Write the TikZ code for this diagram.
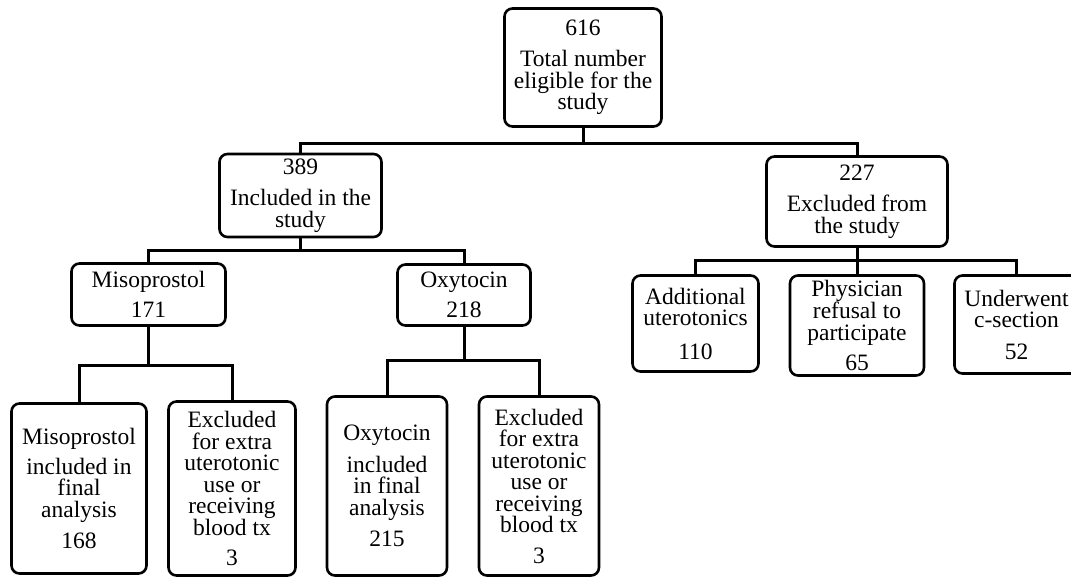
\documentclass[tikz,border=0pt]{standalone}
\usepackage{fontspec}
\setmainfont{Liberation Serif}
\usepackage{tikz}
\usetikzlibrary{arrows.meta,positioning}

\begin{document}
\begin{tikzpicture}[x=1pt,y=1pt]
	\tikzstyle{N} = [draw,line width=2.6pt,rounded corners=8pt,align=center,inner sep=0pt,font=\fontsize{23.5}{21.5}\selectfont]
	\tikzstyle{L} = [-,line width=3pt]
	\clip (0,0) rectangle (1071,-581);
	\node[N,minimum width=157pt,minimum height=118pt](root) at (583,-67.5) {616\\[10pt]Total number\\eligible for the\\study};
	\node[N,below of=root,node distance=128pt,xshift=-282.5pt,minimum width=162pt,minimum height=83pt](inc) {389\\[10pt]Included in the\\study};
	\node[N,below of=root,node distance=134pt,xshift=274pt,minimum width=181pt,minimum height=90pt](exc) {227\\[10pt]Excluded from\\the study};
	%\node[N,right of=inc,node distance=556pt](exc) {227\\Excluded from\\the study};
	\coordinate[below of=root,node distance=75.5pt](b1);
	\draw[L](root) to (b1);
	\draw[L](b1) -| (inc);
	\draw[L](b1) -| (exc);
	% included arm
	\node[N,below of=inc,node distance=99pt,xshift=-152pt,minimum width=154pt,minimum height=62pt](miso) {Misoprostol\\[9pt]171};
	\node[N,below of=inc,node distance=99.5pt,xshift=163.5pt,minimum width=133pt,minimum height=61pt](oxy) {Oxytocin\\[9pt]218};
	\coordinate[below of=inc,node distance=54.5pt](b2);
	\draw[L](inc) to (b2);
	\draw[L](b2) -| (miso);
	\draw[L](b2) -| (oxy);
	\node[N,below of=miso,node distance=194pt,xshift=-69.5pt,minimum width=135pt,minimum height=170pt](misoin) {Misoprostol\\[8pt]included in\\final\\analysis\\[10pt]168};
	\node[N,below of=miso,node distance=194pt,xshift=83.5pt,minimum width=127pt,minimum height=174pt](misoex) {Excluded\\for extra\\uterotonic\\use or\\receiving\\blood tx\\[9pt]3};
	\coordinate[below of=miso,node distance=70.5pt](b3);
	\draw[L](miso) to (b3);
	\draw[L](b3) -| (misoin);
	\draw[L](b3) -| (misoex);
	\node[N,below of=oxy,node distance=191pt,xshift=-77pt,minimum width=120pt,minimum height=179pt](oxyin) {Oxytocin\\[10pt]included\\in final\\analysis\\[10pt]215};
	\node[N,below of=oxy,node distance=191pt,xshift=75pt,minimum width=120pt,minimum height=179pt](oxyex) {Excluded\\for extra\\uterotonic\\use or\\receiving\\blood tx\\[9pt]3};
	\coordinate[below of=oxy,node distance=65pt](b4);
	\draw[L](oxy) to (b4);
	\draw[L](b4) -| (oxyin);
	\draw[L](b4) -| (oxyex);
	% excluded arm
	\node[N,below of=exc,node distance=122pt,xshift=-161.5pt,minimum width=126pt,minimum height=96pt](add) {Additional\\uterotonics\\[12pt]110};
	\node[N,below of=exc,node distance=124pt,minimum width=134pt,minimum height=100pt](phys) {Physician\\refusal to\\participate\\[9pt]65};
	\node[N,below of=exc,node distance=123pt,xshift=159.5pt,minimum width=124pt,minimum height=98pt](under) {Underwent\\c-section\\[10pt]52};
	\coordinate[below of=exc,node distance=58.5pt](b5);
	\draw[L](exc) to (b5);
	\draw[L](b5) -| (add);
	\draw[L](b5) -| (phys);
	\draw[L](b5) -| (under);
\end{tikzpicture}
\end{document}
